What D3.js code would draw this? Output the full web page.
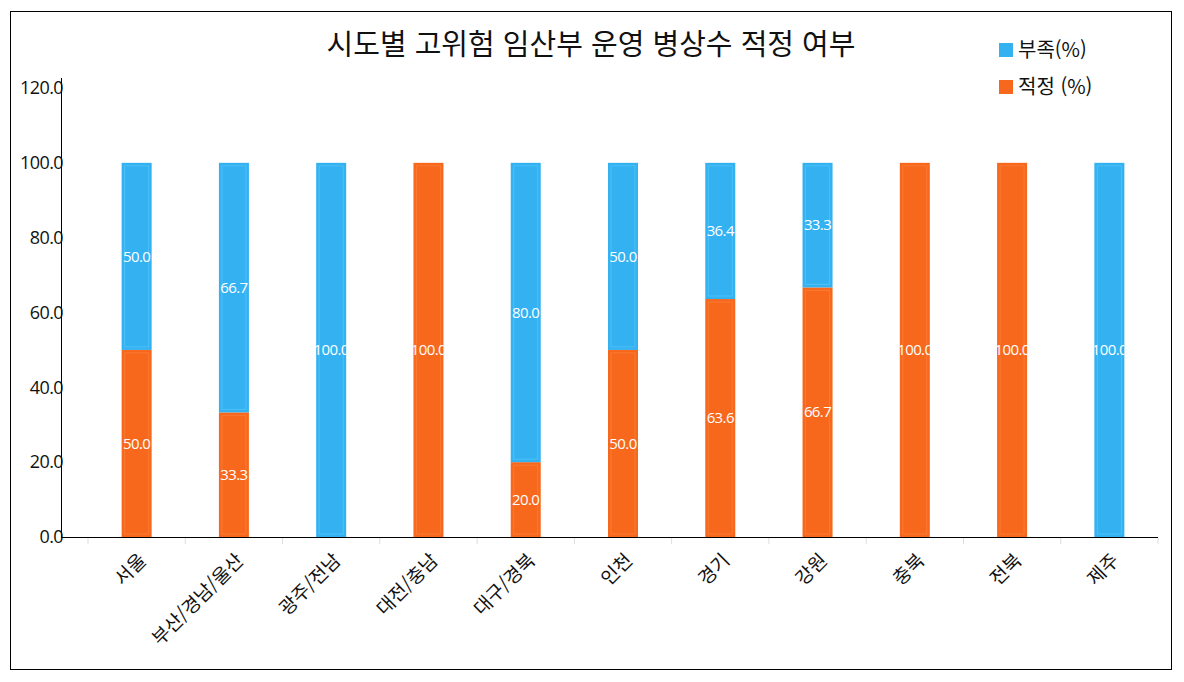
<!DOCTYPE html>
<html lang="ko">
<head>
  <meta charset="UTF-8">
  <title>시도별 고위험 임산부 운영 병상수 적정 여부</title>
  <style>
body { margin: 0; background: #fff; }
text { font-family: "Noto Sans CJK KR", "Noto Sans", sans-serif; }
  </style>
</head>
<body>
  <div id="chart"></div>
  <script src="https://d3js.org/d3.v7.min.js"></script>
  <script>
const regions = ["서울", "부산/경남/울산", "광주/전남", "대전/충남", "대구/경북", "인천", "경기", "강원", "충북", "전북", "제주"];
const adequate = [50.0, 33.3, 0, 100.0, 20.0, 50.0, 63.6, 66.7, 100.0, 100.0, 0];   // 적정 (%)
const shortage = [50.0, 66.7, 100.0, 0, 80.0, 50.0, 36.4, 33.3, 0, 0, 100.0];      // 부족(%)
const yTicks = [0, 20, 40, 60, 80, 100, 120];
const seriesNames = ["부족(%)", "적정 (%)"];

const width = 1184, height = 682;
const blue = "#33b1f1", orange = "#f7681d";

const svg = d3.select("#chart").append("svg")
  .attr("width", width)
  .attr("height", height);

// outer frame
svg.append("rect")
  .attr("x", 10.5).attr("y", 11.5)
  .attr("width", 1161).attr("height", 658)
  .attr("fill", "none").attr("stroke", "#000");

svg.append("text")
  .attr("x", 591).attr("y", 55)
  .attr("text-anchor", "middle")
  .style("font-size", "29px")
  .attr("fill", "#111")
  .text("시도별 고위험 임산부 운영 병상수 적정 여부");

const x = d3.scaleBand().domain(regions).range([88, 1158]);
const y = d3.scaleLinear().domain([0, 120]).range([537, 88]);
const barW = 30;

const rows = regions.map((r, i) => ({ region: r, adequate: adequate[i], shortage: shortage[i] }));
const stack = d3.stack().keys(["adequate", "shortage"])(rows);
const colorOf = { adequate: orange, shortage: blue };

const defs = svg.append("defs");
regions.forEach((r, i) => {
  defs.append("clipPath").attr("id", "clip" + i)
    .append("rect")
    .attr("x", x(r) + x.bandwidth() / 2 - barW / 2)
    .attr("y", 0).attr("width", barW).attr("height", height);
});

const layers = svg.append("g")
  .selectAll("g")
  .data(stack)
  .join("g");

layers.each(function(layer) {
  const g = d3.select(this);
  const segs = layer.filter(d => d[1] - d[0] > 0);
  g.selectAll("rect.bar")
    .data(segs)
    .join("rect")
    .attr("class", "bar")
    .attr("x", d => x(d.data.region) + x.bandwidth() / 2 - barW / 2)
    .attr("y", d => y(d[1]))
    .attr("width", barW)
    .attr("height", d => y(d[0]) - y(d[1]))
    .attr("fill", colorOf[layer.key]);

  // faint inner outline like the original rendering
  g.selectAll("rect.inner")
    .data(segs)
    .join("rect")
    .attr("class", "inner")
    .attr("x", d => x(d.data.region) + x.bandwidth() / 2 - barW / 2 + 3)
    .attr("y", d => y(d[1]) + 3)
    .attr("width", barW - 6)
    .attr("height", d => Math.max(0, y(d[0]) - y(d[1]) - 6))
    .attr("fill", "none")
    .attr("stroke", layer.key === "shortage" ? "#4fc0f8" : "#f97a34")
    .attr("stroke-width", 1);

  g.selectAll("text")
    .data(segs)
    .join("text")
    .attr("clip-path", d => `url(#clip${regions.indexOf(d.data.region)})`)
    .attr("x", d => x(d.data.region) + x.bandwidth() / 2)
    .attr("y", d => y((d[0] + d[1]) / 2))
    .attr("dy", "0.35em")
    .attr("text-anchor", "middle")
    .attr("fill", "#fff")
    .style("font-family", "'Open Sans', 'Noto Sans', sans-serif")
    .style("font-size", "15px")
    .style("letter-spacing", "-0.6px")
    .text(d => (d[1] - d[0]).toFixed(1));
});

// y axis
const yAxis = svg.append("g").attr("transform", "translate(61,0)");
yAxis.append("line")
  .attr("x1", 0.5).attr("x2", 0.5)
  .attr("y1", 78).attr("y2", 537)
  .attr("stroke", "#000");
yAxis.selectAll("text")
  .data(yTicks)
  .join("text")
  .attr("x", 2)
  .attr("y", d => y(d))
  .attr("dy", "0.35em")
  .attr("text-anchor", "end")
  .attr("fill", "#111")
  .style("font-family", "'Open Sans', 'Noto Sans', sans-serif")
  .style("font-size", "18px")
  .style("letter-spacing", "-0.6px")
  .text(d => d.toFixed(1));

// x axis
const xAxis = svg.append("g");
xAxis.append("line")
  .attr("x1", 61).attr("x2", 1158)
  .attr("y1", 537.5).attr("y2", 537.5)
  .attr("stroke", "#000");
xAxis.selectAll("line.tick")
  .data(regions.map(r => x(r)).concat([x.range()[1]]))
  .join("line")
  .attr("class", "tick")
  .attr("x1", d => d).attr("x2", d => d)
  .attr("y1", 538).attr("y2", 544)
  .attr("stroke", "#ddd");
xAxis.selectAll("text")
  .data(regions)
  .join("text")
  .attr("transform", d => `translate(${x(d) + x.bandwidth() / 2 + 6},${557}) rotate(-45)`)
  .attr("text-anchor", "end")
  .attr("dy", "0.35em")
  .attr("fill", "#111")
  .style("font-size", "19px")
  .text(d => d);

// legend
const legend = svg.append("g")
  .selectAll("g")
  .data(seriesNames)
  .join("g")
  .attr("transform", (d, i) => `translate(999,${43 + i * 37})`);
legend.append("rect")
  .attr("width", 14).attr("height", 14)
  .attr("fill", (d, i) => i === 0 ? blue : orange);
legend.append("text")
  .attr("x", 19).attr("y", 7)
  .attr("dy", "0.35em")
  .attr("fill", "#111")
  .style("font-size", "20px")
  .text(d => d);
  </script>
</body>
</html>
